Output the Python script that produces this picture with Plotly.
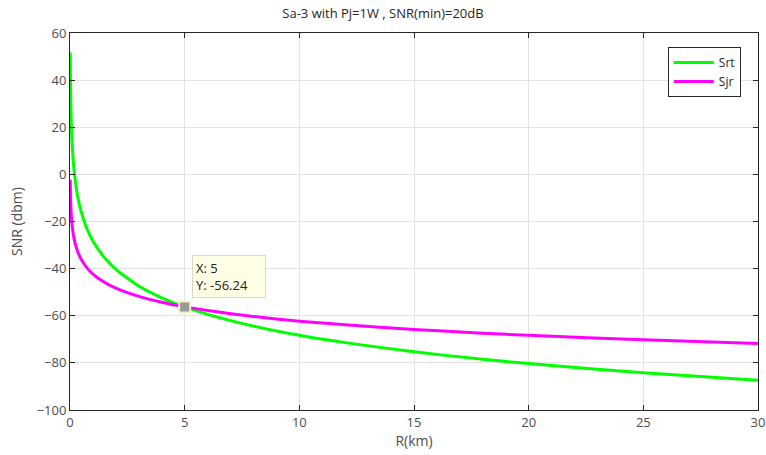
import plotly.graph_objects as go

# values
r_km = [0.01, 0.02, 0.03, 0.05, 0.075, 0.1, 0.15, 0.2, 0.3, 0.4, 0.5, 0.75,
        1, 1.5, 2, 3, 4, 5, 6, 8, 10, 12, 15, 18, 20, 25, 30]
srt = [51.7, 39.7, 32.6, 23.8, 16.7, 11.7, 4.7, -0.3, -7.4, -12.4, -16.2, -23.3,
       -28.3, -35.3, -40.3, -47.4, -52.4, -56.24, -59.4, -64.4, -68.3, -71.4,
       -75.3, -78.5, -80.3, -84.2, -87.4]
sjr = [-2.3, -8.3, -11.8, -16.2, -19.8, -22.3, -25.8, -28.3, -31.8, -34.3, -36.2, -39.8,
       -42.3, -45.8, -48.3, -51.8, -54.3, -56.24, -57.8, -60.3, -62.3, -63.8,
       -65.8, -67.4, -68.3, -70.2, -71.8]
tip_x, tip_y = 5, -56.24

font = "Open Sans, Noto Sans, sans-serif"

fig = go.Figure()
fig.add_trace(go.Scatter(x=r_km, y=srt, mode="lines", name="Srt",
                         line=dict(color="#00ff00", width=3, shape="spline", smoothing=0.6)))
fig.add_trace(go.Scatter(x=r_km, y=sjr, mode="lines", name="Sjr",
                         line=dict(color="#ff00ff", width=3, shape="spline", smoothing=0.6)))

# data tip
fig.add_trace(go.Scatter(x=[tip_x], y=[tip_y], mode="markers", showlegend=False,
                         marker=dict(symbol="square", size=11, color="#999999",
                                     line=dict(color="#f5f0c0", width=2))))
fig.add_annotation(x=tip_x, y=tip_y, text=f"X: {tip_x}<br>Y: {tip_y}",
                   showarrow=False, xanchor="left", yanchor="bottom",
                   xshift=7, yshift=9, align="left", width=66,
                   bgcolor="#ffffe6", bordercolor="#d8d8c8", borderwidth=1,
                   borderpad=3, font=dict(family=font, size=13, color="#222222"))

axis_common = dict(showline=True, linecolor="#262626", linewidth=1, mirror="ticks",
                   ticks="inside", ticklen=5, tickcolor="#262626",
                   showgrid=True, gridcolor="#e3e3e3", zeroline=False, automargin=False,
                   tickfont=dict(family=font, size=13, color="#4d4d4d"))

fig.update_layout(
    width=766, height=455,
    margin=dict(l=70, r=8, t=33, b=45),
    paper_bgcolor="white", plot_bgcolor="white",
    title=dict(text="Sa-3 with Pj=1W , SNR(min)=20dB", x=0.5, xanchor="center",
               y=0.97, yanchor="middle", automargin=False,
               font=dict(family=font, size=13, color="#262626")),
    xaxis=dict(range=[0, 30], dtick=5,
               title=dict(text="R(km)", standoff=4,
                          font=dict(family=font, size=14, color="#4d4d4d")),
               **axis_common),
    yaxis=dict(range=[-100, 60], dtick=20,
               title=dict(text="SNR (dbm)", standoff=10,
                          font=dict(family=font, size=14, color="#4d4d4d")),
               **axis_common),
    legend=dict(x=0.975, xanchor="right", y=0.963, yanchor="top",
                bordercolor="#262626", borderwidth=1, bgcolor="white",
                font=dict(family=font, size=12, color="#262626"),
                tracegroupgap=0, itemwidth=40),
    showlegend=True,
)

fig.write_html("out.html", config={"displayModeBar": False},
               post_script="document.body.style.margin='0';")
